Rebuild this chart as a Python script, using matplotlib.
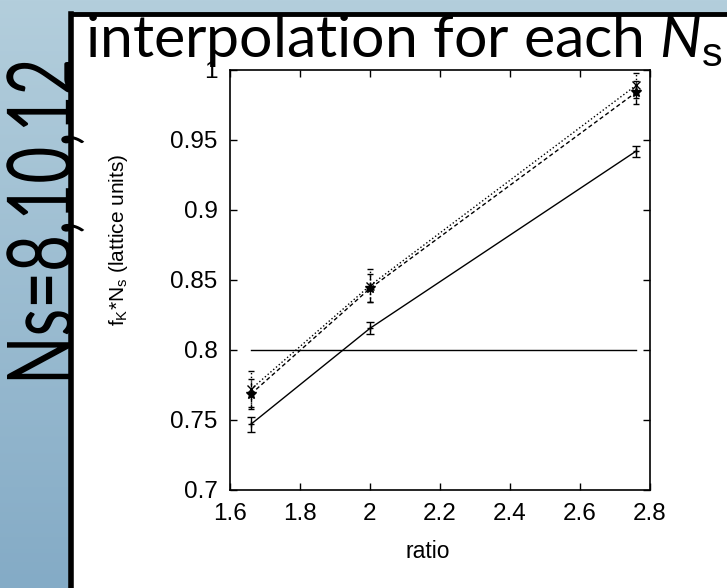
import numpy as np
import matplotlib.pyplot as plt
from matplotlib.patches import Rectangle, PathPatch
from matplotlib.textpath import TextPath
from matplotlib.font_manager import FontProperties
from matplotlib.transforms import Affine2D
from matplotlib.colors import to_rgb
from matplotlib.ticker import FormatStrFormatter

plt.rcParams['font.family'] = ['Liberation Sans', 'DejaVu Sans']
plt.rcParams['mathtext.fontset'] = 'custom'
plt.rcParams['mathtext.rm'] = 'Liberation Sans'
plt.rcParams['mathtext.it'] = 'Lato:italic'

# f_K * N_s against the ratio, one curve per lattice size
ratio = [1.66, 2.0, 2.76]
fk_a = [0.747, 0.8155, 0.942]
err_a = [0.0054, 0.0043, 0.0038]
fk_b = [0.772, 0.846, 0.989]
err_b = [0.013, 0.012, 0.009]
fk_c = [0.7686, 0.844, 0.984]
err_c = [0.011, 0.010, 0.008]
target = 0.8

W, H = 727, 588
fig = plt.figure(figsize=(W / 100, H / 100), dpi=100)

# slide background: blue gradient with a white framed panel
bg = fig.add_axes([0, 0, 1, 1], zorder=0)
bg.set_xlim(0, W)
bg.set_ylim(H, 0)
bg.axis('off')
top_c = np.array(to_rgb('#b3cedc'))
bot_c = np.array(to_rgb('#84abc6'))
t = np.linspace(0, 1, 256)[:, None, None]
grad = top_c * (1 - t) + bot_c * t
grad = np.repeat(grad, 2, axis=1)
bg.imshow(grad, extent=[0, W, H, 0], aspect='auto', zorder=0)
bg.add_patch(Rectangle((71, 13.5), W, H, facecolor='white', edgecolor='none', zorder=1))
bg.plot([71, 71], [H, 13.5], color='black', lw=4, solid_capstyle='projecting', zorder=2)
bg.plot([71, W], [13.5, 13.5], color='black', lw=3.5, solid_capstyle='projecting', zorder=2)

bg.text(85, 57, r'interpolation for each $N_{\rm s}$', family='Lato', fontsize=42.5,
        ha='left', va='baseline', zorder=3)

# side caption, squeezed along its length and turned to read upwards
side = TextPath((0, 0), 'Ns=8,10,12', size=1, prop=FontProperties(family='Lato'))
u0, u1 = side.vertices[:, 0].min(), side.vertices[:, 0].max()
su = 323 / (u1 - u0)
sv = 65 / 0.7165
tr = Affine2D.from_values(0, -su, -sv, 0, 72, 385 + u0 * su)
bg.add_patch(PathPatch(tr.transform_path(side), facecolor='black',
                       edgecolor='none', zorder=3))

ax = fig.add_axes([230 / W, 1 - 490 / H, 420 / W, 420 / H], zorder=2)

ax.plot([ratio[0], ratio[-1]], [target, target], color='black', lw=1)

ax.errorbar(ratio, fk_a, yerr=err_a, fmt='-', color='black', lw=1,
            elinewidth=1, capsize=3, capthick=1, marker='+', ms=5)
eb = ax.errorbar(ratio, fk_b, yerr=err_b, fmt=':', color='black', lw=1,
                 elinewidth=1, capsize=2.2, capthick=1, marker='x', ms=6)
eb[2][0].set_linestyle(':')
eb = ax.errorbar(ratio, fk_c, yerr=err_c, fmt='--', color='black', lw=1,
                 dashes=(3, 2), elinewidth=1, capsize=2.2, capthick=1,
                 marker='*', ms=7)
eb[2][0].set_linestyle('--')

ax.set_xlim(1.6, 2.8)
ax.set_ylim(0.7, 1.0)
ax.set_xticks(np.arange(1.6, 2.81, 0.2))
ax.set_yticks(np.arange(0.7, 1.001, 0.05))
ax.xaxis.set_major_formatter(FormatStrFormatter('%g'))
ax.yaxis.set_major_formatter(FormatStrFormatter('%g'))
ax.tick_params(direction='in', top=True, right=True, length=5, width=1,
               labelsize=17.5, pad=9)
for s in ax.spines.values():
    s.set_linewidth(1.2)

fig.text(428 / W, 1 - 552 / H, 'ratio', fontsize=16.5, ha='center', va='center')
fig.text(118 / W, 1 - 240 / H, r'f$_{\rm K}$*N$_{\rm s}$ (lattice units)',
         rotation=90, fontsize=15, ha='center', va='center')

fig.savefig('out.png', dpi=100)
